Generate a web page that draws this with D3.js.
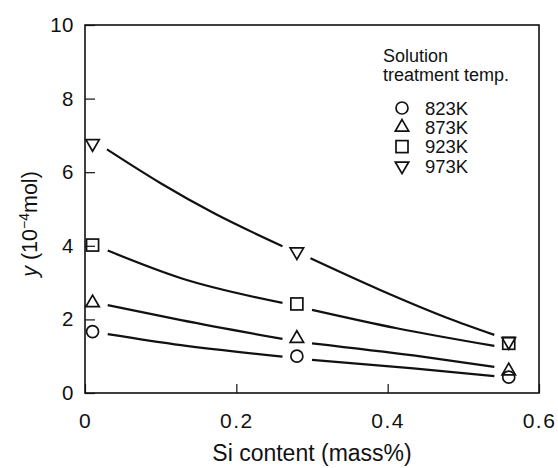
<!DOCTYPE html>
<html>
<head>
<meta charset="utf-8">
<script src="https://cdn.jsdelivr.net/npm/d3@7"></script>
<style>
  body { margin: 0; background: #fff; }
  text { font-family: "Liberation Sans", Arial, sans-serif; fill: #111; }
</style>
</head>
<body>
<svg width="558" height="468"></svg>
<script>
// measured points (Si content, y in 10^-4 mol)
var siContent = [0.01, 0.28, 0.56];
var temps = ["823K", "873K", "923K", "973K"];
var y823 = [1.67, 1.0, 0.43];
var y873 = [2.45, 1.48, 0.6];
var y923 = [4.02, 2.42, 1.35];
var y973 = [6.78, 3.84, 1.4];

// fitted curves, split where they break around the middle marker
var fit823 = [[[0.030,1.60],[0.127,1.30],[0.261,0.99]], [[0.300,0.90],[0.434,0.67],[0.541,0.46]]];
var fit873 = [[[0.030,2.39],[0.127,1.98],[0.261,1.47]], [[0.300,1.35],[0.434,1.02],[0.541,0.71]]];
var fit923 = [[[0.030,3.87],[0.127,3.12],[0.261,2.45]], [[0.300,2.26],[0.412,1.76],[0.541,1.28]]];
var fit973 = [[[0.029,6.62],[0.100,5.70],[0.170,4.89],[0.261,3.99]], [[0.298,3.66],[0.390,2.80],[0.479,2.04],[0.541,1.58]]];

var xTicks = [0, 0.2, 0.4, 0.6];
var yTicks = [0, 2, 4, 6, 8, 10];

var svg = d3.select("svg");
var marge = {left: 85, right: 539, top: 25, bottom: 393}; // plot box edges in px

var x = d3.scaleLinear().domain([0, 0.6]).range([marge.left, marge.right]);
var y = d3.scaleLinear().domain([0, 10]).range([marge.bottom, marge.top]);

var series = [
  {name: temps[0], vals: y823, fit: fit823, sym: "circle"},
  {name: temps[1], vals: y873, fit: fit873, sym: "up"},
  {name: temps[2], vals: y923, fit: fit923, sym: "square"},
  {name: temps[3], vals: y973, fit: fit973, sym: "down"}
];

// axes with inward ticks
var gx = svg.append("g")
  .attr("transform", "translate(0," + marge.bottom + ")")
  .call(d3.axisBottom(x).tickValues(xTicks).tickSizeInner(-9).tickSizeOuter(0).tickPadding(20)
    .tickFormat(function(d){ return d === 0 ? "0" : d3.format(".1f")(d); }));
gx.select(".domain").remove();
gx.selectAll("line").attr("stroke", "#111").attr("stroke-width", 1.2);
gx.selectAll("text").attr("font-size", "21px").attr("fill", "#111").attr("dy", "0.72em").attr("letter-spacing", "1.5px");

var gy = svg.append("g")
  .attr("transform", "translate(" + marge.left + ",0)")
  .call(d3.axisLeft(y).tickValues(yTicks).tickSizeInner(-10).tickSizeOuter(0).tickPadding(11));
gy.select(".domain").remove();
gy.selectAll("line").attr("stroke", "#111").attr("stroke-width", 1.2);
gy.selectAll("text").attr("font-size", "20.5px").attr("fill", "#111").attr("letter-spacing", "0.5px");

// frame
svg.append("rect")
  .attr("x", marge.left).attr("y", marge.top)
  .attr("width", marge.right - marge.left).attr("height", marge.bottom - marge.top)
  .attr("fill", "none").attr("stroke", "#111").attr("stroke-width", 1.6);

// fitted curves
var line = d3.line()
  .x(function(d){ return x(d[0]); })
  .y(function(d){ return y(d[1]); })
  .curve(d3.curveMonotoneX);

series.forEach(function(s){
  s.fit.forEach(function(seg){
    svg.append("path")
      .attr("d", line(seg))
      .attr("fill", "none")
      .attr("stroke", "#111")
      .attr("stroke-width", 2.2);
  });
});

// markers
function drawMarker(g, type, cx, cy) {
  var m;
  if (type === "circle") {
    m = g.append("circle").attr("cx", cx).attr("cy", cy).attr("r", 6);
  } else if (type === "square") {
    m = g.append("rect").attr("x", cx - 6).attr("y", cy - 6).attr("width", 12).attr("height", 12);
  } else {
    var sym = d3.symbol().type(d3.symbolTriangle).size(78)();
    m = g.append("path").attr("d", sym)
      .attr("transform", "translate(" + cx + "," + cy + ")" + (type === "down" ? " rotate(180)" : ""));
  }
  m.attr("fill", "none").attr("stroke", "#111").attr("stroke-width", 1.7);
}

var gm = svg.append("g");
series.forEach(function(s){
  s.vals.forEach(function(v, i){
    drawMarker(gm, s.sym, x(siContent[i]), y(v));
  });
});

// legend
var lg = svg.append("g");
lg.append("text").attr("x", 383).attr("y", 62).attr("font-size", "18px").text("Solution");
lg.append("text").attr("x", 383).attr("y", 81).attr("font-size", "18px").text("treatment temp.");
series.forEach(function(s, i){
  var ry = 108 + i * 19.3;
  drawMarker(lg, s.sym, 402, ry);
  lg.append("text").attr("x", 425).attr("y", ry).attr("dy", "0.36em")
    .attr("font-size", "18.5px").text(s.name);
});

// axis titles
svg.append("text")
  .attr("x", (marge.left + marge.right) / 2).attr("y", 461)
  .attr("text-anchor", "middle").attr("font-size", "23px")
  .text("Si content (mass%)");

var yl = svg.append("text")
  .attr("transform", "translate(37,224) rotate(-90)")
  .attr("text-anchor", "middle").attr("font-size", "21.5px");
yl.append("tspan").attr("font-style", "italic").text("y");
yl.append("tspan").text(" (10");
yl.append("tspan").attr("font-size", "14px").attr("dy", "-8").text("−4");
yl.append("tspan").attr("dy", "8").text("mol)");
</script>
</body>
</html>
